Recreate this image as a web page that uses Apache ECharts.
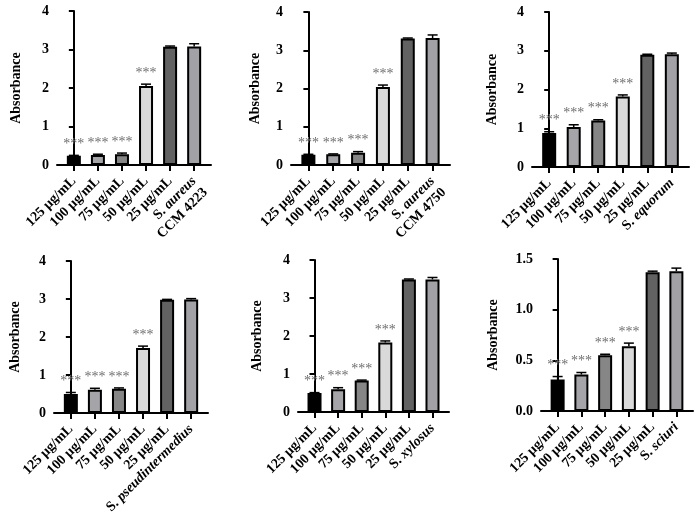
<!DOCTYPE html>
<html><head><meta charset="utf-8">
<script src="https://cdn.jsdelivr.net/npm/echarts@6/dist/echarts.min.js"></script>
<style>html,body{margin:0;padding:0;background:#fff}#c{width:700px;height:525px}</style>
</head><body><div id="c"></div>
<script>
// ---- data ----
const concLabels = ['125 μg/mL', '100 μg/mL', '75 μg/mL', '50 μg/mL', '25 μg/mL'];
const strainGenus = ['S.', 'S.', 'S.', 'S.', 'S.', 'S.'];
const strainSpecies = ['aureus', 'aureus', 'equorum', 'pseudintermedius', 'xylosus', 'sciuri'];
const strainCode = ['CCM 4223', 'CCM 4750', '', '', '', ''];

const values1 = [0.24, 0.26, 0.28, 2.05, 3.07, 3.08];
const errors1 = [0.01, 0.02, 0.03, 0.05, 0.02, 0.07];
const values2 = [0.27, 0.28, 0.32, 2.04, 3.31, 3.32];
const errors2 = [0.01, 0.01, 0.03, 0.05, 0.01, 0.08];
const values3 = [0.88, 1.03, 1.20, 1.82, 2.90, 2.91];
const errors3 = [0.03, 0.06, 0.02, 0.04, 0.01, 0.03];
const values4 = [0.50, 0.61, 0.64, 1.71, 2.98, 2.99];
const errors4 = [0.04, 0.04, 0.02, 0.05, 0.01, 0.02];
const values5 = [0.50, 0.60, 0.83, 1.83, 3.49, 3.49];
const errors5 = [0.01, 0.04, 0.01, 0.04, 0.01, 0.05];
const values6 = [0.31, 0.36, 0.55, 0.64, 1.37, 1.38];
const errors6 = [0.03, 0.02, 0.01, 0.03, 0.01, 0.03];
const significance = ['***', '***', '***', '***', '', ''];

const yMaxes = [4, 4, 4, 4, 4, 1.5];
const yIntervals = [1, 1, 1, 1, 1, 0.5];
const yDecimals = [0, 0, 0, 0, 0, 1];
const yTitle = 'Absorbance';

// ---- styling / layout ----
const allValues = [values1, values2, values3, values4, values5, values6];
const allErrors = [errors1, errors2, errors3, errors4, errors5, errors6];
const barColors = ['#000000', '#a5a5a9', '#868686', '#d9d9d9', '#626262', '#a2a2a6'];
const grids = [
  {left: 57, top: 11, width: 154, height: 154},
  {left: 291, top: 12, width: 159, height: 153},
  {left: 532, top: 12, width: 157, height: 155},
  {left: 54, top: 261, width: 154, height: 152},
  {left: 298, top: 260, width: 151, height: 152},
  {left: 541, top: 259, width: 152, height: 152}
];
const nameGaps = [34, 29, 33, 32, 34, 41];
const FONT = '"Liberation Serif", "Times New Roman", serif';
const tickPos = [0, 1, 2, 3, 4, 5];
const labelPos = [0, 1, 2, 3, 4, 5, 5.7]; // last entry is an empty guard label

function xLabel(panel) {
  return function (v) {
    if (v !== Math.round(v)) return '';
    if (v < 5) return '{n|' + concLabels[v] + '}';
    const code = strainCode[panel];
    const main = '{n|' + strainGenus[panel] + ' }{i|' + strainSpecies[panel] + '}';
    if (code) return '{n| }\n' + main + '\n{n|' + code + '}';
    return main;
  };
}

const option = {
  animation: false,
  backgroundColor: '#ffffff',
  grid: [], xAxis: [], yAxis: [], series: []
};

for (let p = 0; p < 6; p++) {
  option.grid.push(Object.assign({containLabel: false}, grids[p]));
  option.xAxis.push({
    type: 'value', gridIndex: p, min: -0.7, max: 5.7,
    axisLine: {show: true, onZero: false, lineStyle: {color: '#000', width: 2}},
    axisTick: {show: true, customValues: tickPos, length: 6, lineStyle: {color: '#000', width: 2}},
    splitLine: {show: false},
    axisLabel: {
      customValues: labelPos, rotate: 45, margin: 14, color: '#000',
      showMinLabel: true, showMaxLabel: false, hideOverlap: false,
      formatter: xLabel(p),
      rich: {
        n: {fontFamily: FONT, fontWeight: 'bold', fontSize: 14, color: '#000', lineHeight: 16},
        i: {fontFamily: FONT, fontWeight: 'bold', fontStyle: 'italic', fontSize: 14, color: '#000', lineHeight: 16}
      }
    }
  });
  option.yAxis.push({
    type: 'value', gridIndex: p, min: 0, max: yMaxes[p], interval: yIntervals[p],
    name: yTitle, nameLocation: 'middle', nameGap: nameGaps[p], nameRotate: 90,
    nameTextStyle: {fontFamily: FONT, fontWeight: 'bold', fontSize: 14, color: '#000'},
    axisLine: {show: true, lineStyle: {color: '#000', width: 2}},
    axisTick: {show: true, length: 5, lineStyle: {color: '#000', width: 2}},
    splitLine: {show: false},
    axisLabel: {
      fontFamily: FONT, fontWeight: 'bold', fontSize: 14, color: '#000', margin: 8,
      showMinLabel: true, showMaxLabel: true,
      formatter: (function (d) { return function (v) { return v.toFixed(d); }; })(yDecimals[p])
    }
  });
  const vals = allValues[p], errs = allErrors[p];
  option.series.push({
    type: 'bar', xAxisIndex: p, yAxisIndex: p, barWidth: 14,
    data: vals.map(function (v, i) { return [i, v]; }),
    itemStyle: {
      color: function (prm) { return barColors[prm.dataIndex]; },
      borderColor: '#000', borderWidth: 2
    }
  });
  option.series.push({
    type: 'custom', xAxisIndex: p, yAxisIndex: p, z: 5,
    data: vals.map(function (v, i) { return [i, v, errs[i]]; }),
    encode: {x: 0, y: 1},
    renderItem: function (params, api) {
      const i = api.value(0), v = api.value(1), e = api.value(2);
      const a = api.coord([i, v]);
      const b = api.coord([i, v + e]);
      const children = [
        {type: 'line', shape: {x1: a[0], y1: a[1], x2: b[0], y2: b[1]}, style: {stroke: '#000', lineWidth: 1.5}},
        {type: 'line', shape: {x1: b[0] - 5, y1: b[1], x2: b[0] + 5, y2: b[1]}, style: {stroke: '#000', lineWidth: 1.5}}
      ];
      const s = significance[i];
      if (s) {
        children.push({type: 'text', style: {
          text: s, x: b[0], y: b[1] - 11, align: 'center', verticalAlign: 'middle',
          font: '14px ' + FONT, fill: '#6e6e6e'
        }});
      }
      return {type: 'group', children: children};
    }
  });
}

const chart = echarts.init(document.getElementById('c'), null, {renderer: 'canvas'});
chart.setOption(option);
</script>
</body></html>
